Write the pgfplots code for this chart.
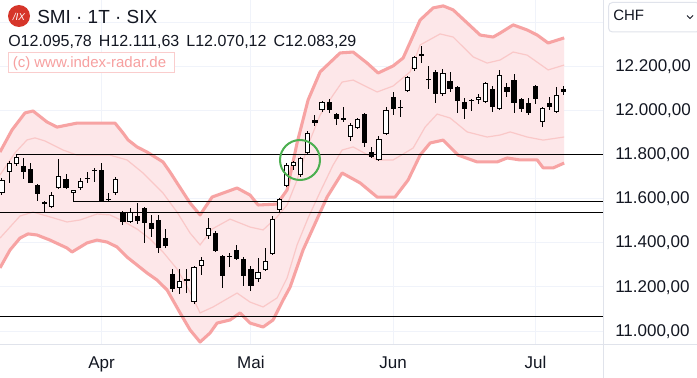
\documentclass[border=0pt]{standalone}
\usepackage{pgfplots}
\pgfplotsset{compat=1.18}
\usepackage{pgfplotstable}
\usepackage{fontspec}
\setmainfont{Liberation Sans}

\definecolor{txt}{RGB}{19,23,34}
\definecolor{gridc}{RGB}{240,243,250}
\definecolor{axc}{RGB}{224,227,235}
\definecolor{bandfill}{RGB}{253,231,233}
\definecolor{outerc}{RGB}{247,163,163}
\definecolor{innerc}{RGB}{250,200,200}
\definecolor{wmc}{RGB}{247,160,160}
\definecolor{wmbox}{RGB}{250,205,205}
\definecolor{circc}{RGB}{76,175,80}
\definecolor{logoc}{RGB}{214,53,42}

% Bands: upper outer, upper inner, lower inner, lower outer (index, value)
\pgfplotstableread{
i v
-0.28 11811
1.41 11911
3.23 11988
4.36 11997
6.33 11947
7.74 11924
10.55 11942
13.78 11942
15.89 11942
17.02 11897
17.72 11866
18.99 11834
20.39 11811
22.64 11766
23.63 11720
24.61 11671
26.44 11580
27.85 11526
29.54 11607
33.05 11648
34.88 11616
36.01 11571
38.68 11575
40.08 11639
41.49 11852
43.04 12047
44.73 12174
47.54 12260
49.37 12264
51.34 12214
52.88 12169
54.99 12201
56.40 12237
58.79 12409
60.62 12464
62.03 12473
63.43 12455
65.40 12396
67.23 12341
69.06 12332
70.04 12350
71.87 12387
73.84 12364
75.25 12341
76.79 12305
79.04 12328
}\bandUO

\pgfplotstableread{
i v
-0.28 11707
1.83 11807
3.52 11866
4.64 11875
6.05 11861
8.58 11820
10.55 11797
13.08 11797
15.19 11797
17.58 11775
19.83 11716
22.64 11625
24.61 11539
26.44 11444
27.85 11390
29.54 11462
32.07 11507
34.88 11471
36.71 11458
38.68 11517
40.08 11571
41.49 11684
43.04 11843
44.73 11979
46.55 12069
47.82 12128
49.37 12137
52.74 12083
54.99 12110
57.38 12174
58.79 12296
61.60 12346
63.43 12332
66.24 12242
68.21 12214
70.04 12228
71.87 12264
73.84 12250
76.79 12183
79.04 12205
}\bandUI

\pgfplotstableread{
i v
-0.28 11421
2.53 11521
4.36 11539
6.75 11517
9.14 11494
10.97 11503
13.36 11530
15.19 11526
17.02 11498
18.99 11462
20.82 11417
22.64 11358
24.61 11281
26.44 11177
27.85 11082
29.68 11109
33.05 11172
34.88 11131
36.71 11109
38.68 11150
40.08 11240
41.49 11390
43.04 11512
44.73 11630
46.55 11752
47.82 11820
49.37 11834
52.74 11775
54.99 11775
57.81 11829
59.49 11924
61.18 11983
63.01 11965
65.40 11902
68.21 11879
70.04 11888
71.45 11902
73.84 11879
76.09 11865
79.04 11879
}\bandLI

\pgfplotstableread{
i v
-0.28 11286
1.13 11367
2.53 11421
3.66 11440
4.92 11435
6.75 11412
9.14 11376
9.85 11358
11.95 11399
13.36 11412
14.77 11403
16.17 11381
17.58 11335
18.99 11299
20.39 11263
21.80 11231
23.21 11186
25.04 11082
26.44 11005
27.85 10950
29.25 10991
30.24 11036
32.07 11050
33.47 11082
34.88 11036
36.71 11018
38.11 11050
39.52 11140
40.51 11199
42.33 11367
45.71 11607
47.82 11716
50.35 11671
52.74 11607
55.27 11607
57.10 11684
58.79 11797
60.20 11852
62.03 11865
64.14 11797
66.81 11766
69.62 11766
71.03 11784
72.86 11775
75.25 11775
76.09 11739
77.50 11739
79.04 11761
}\bandLO

% band area: upper outer forward, lower outer backward
\pgfplotstableread{
i v
-0.28 11811
1.41 11911
3.23 11988
4.36 11997
6.33 11947
7.74 11924
10.55 11942
13.78 11942
15.89 11942
17.02 11897
17.72 11866
18.99 11834
20.39 11811
22.64 11766
23.63 11720
24.61 11671
26.44 11580
27.85 11526
29.54 11607
33.05 11648
34.88 11616
36.01 11571
38.68 11575
40.08 11639
41.49 11852
43.04 12047
44.73 12174
47.54 12260
49.37 12264
51.34 12214
52.88 12169
54.99 12201
56.40 12237
58.79 12409
60.62 12464
62.03 12473
63.43 12455
65.40 12396
67.23 12341
69.06 12332
70.04 12350
71.87 12387
73.84 12364
75.25 12341
76.79 12305
79.04 12328
79.04 11761
77.50 11739
76.09 11739
75.25 11775
72.86 11775
71.03 11784
69.62 11766
66.81 11766
64.14 11797
62.03 11865
60.20 11852
58.79 11797
57.10 11684
55.27 11607
52.74 11607
50.35 11671
47.82 11716
45.71 11607
42.33 11367
40.51 11199
39.52 11140
38.11 11050
36.71 11018
34.88 11036
33.47 11082
32.07 11050
30.24 11036
29.25 10991
27.85 10950
26.44 11005
25.04 11082
23.21 11186
21.80 11231
20.39 11263
18.99 11299
17.58 11335
16.17 11381
14.77 11403
13.36 11412
11.95 11399
9.85 11358
9.14 11376
6.75 11412
4.92 11435
3.66 11440
2.53 11421
1.13 11367
-0.28 11286
}\bandArea

% candles: index, low, body bottom, body top, high
\newcommand{\cb}[5]{%
  \addplot[black,line width=0.75pt] coordinates {(#1,#2) (#1,#5)};
  \addplot[black,line width=3.9pt] coordinates {(#1,#3) (#1,#4)};}
\newcommand{\cw}[5]{%
  \addplot[black,line width=0.75pt] coordinates {(#1,#2) (#1,#5)};
  \addplot[black,line width=3.9pt] coordinates {(#1,#3) (#1,#4)};
  \pgfmathsetmacro\cwa{#3+4.6}\pgfmathsetmacro\cwb{#4-4.6}%
  \addplot[white,line width=2.4pt] coordinates {(#1,\cwa) (#1,\cwb)};}

\begin{document}
\begin{tikzpicture}
\useasboundingbox (0,0) rectangle (522.75pt,-283.5pt);
\fill[white] (0,0) rectangle (522.75pt,-283.5pt);

\begin{axis}[
  at={(0,0)}, anchor=north west,
  scale only axis, width=452.25pt, height=258.75pt,
  xmin=-0.28, xmax=84.5, ymin=10936.6, ymax=12499.8,
  axis line style={draw=none},
  major tick length=0pt,
  xtick={14,35,55,75},
  xticklabels={Apr,Mai,Jun,Jul},
  ytick={11000,11200,11400,11600,11800,12000,12200,12400},
  yticklabels={{11.000,00},{11.200,00},{11.400,00},{11.600,00},{11.800,00},{12.000,00},{12.200,00},{}},
  yticklabel pos=right,
  grid=major,
  major grid style={color=gridc, line width=0.75pt},
  yticklabel style={font=\fontsize{12.75pt}{15pt}\selectfont, text=txt, anchor=base west, inner sep=0pt, xshift=9pt, yshift=-3.9pt},
  xticklabel style={font=\fontsize{12.75pt}{15pt}\selectfont, text=txt, anchor=base, inner sep=0pt, yshift=-18pt},
]
\addplot[fill=bandfill, draw=none] table[x=i,y=v]{\bandArea};

\addplot[innerc, line width=0.9pt] table[x=i,y=v]{\bandUI};
\addplot[innerc, line width=0.9pt] table[x=i,y=v]{\bandLI};
\addplot[outerc, line width=2.3pt, line join=round] table[x=i,y=v]{\bandUO};
\addplot[outerc, line width=2.3pt, line join=round] table[x=i,y=v]{\bandLO};

\addplot[black, line width=0.75pt] coordinates {(1.9,11802) (90,11802)};
\addplot[black, line width=0.75pt] coordinates {(10,11585) (90,11585)};
\addplot[black, line width=0.75pt] coordinates {(-1,11535) (90,11535)};
\addplot[black, line width=0.75pt] coordinates {(-1,11065) (90,11065)};

\cw{0}{11617}{11626}{11685}{11694}
\cw{1}{11671}{11721}{11762}{11771}
\cw{2}{11748}{11757}{11789}{11798}
\cb{3}{11689}{11721}{11748}{11785}
\cb{4}{11671}{11671}{11735}{11762}
\cb{5}{11590}{11621}{11662}{11665}
\cb{6}{11535}{11576}{11585}{11590}
\cw{7}{11558}{11562}{11617}{11630}
\cw{8}{11645}{11648}{11703}{11780}
\cb{9}{11645}{11648}{11689}{11712}
\cw{10}{11585}{11625}{11637}{11640}
\cw{11}{11639}{11648}{11680}{11694}
\cb{12}{11671}{11689}{11694}{11721}
\cb{13}{11676}{11726}{11730}{11739}
\cb{14}{11585}{11590}{11730}{11762}
\cb{15}{11585}{11595}{11599}{11626}
\cw{16}{11617}{11626}{11689}{11698}
\cb{17}{11481}{11494}{11540}{11545}
\cw{18}{11490}{11494}{11540}{11558}
\cb{19}{11485}{11499}{11522}{11580}
\cb{20}{11399}{11490}{11558}{11560}
\cb{21}{11426}{11463}{11490}{11526}
\cb{22}{11354}{11376}{11503}{11526}
\cb{23}{11376}{11385}{11422}{11463}
\cb{24}{11177}{11190}{11258}{11281}
\cw{25}{11168}{11195}{11227}{11281}
\cb{26}{11172}{11227}{11236}{11281}
\cw{27}{11122}{11132}{11290}{11295}
\cw{28}{11254}{11295}{11322}{11336}
\cw{29}{11417}{11431}{11467}{11512}
\cb{30}{11360}{11363}{11444}{11454}
\cb{31}{11195}{11250}{11340}{11345}
\cb{32}{11290}{11336}{11340}{11354}
\cb{33}{11322}{11327}{11367}{11390}
\cb{34}{11204}{11250}{11327}{11336}
\cb{35}{11181}{11204}{11281}{11295}
\cw{36}{11222}{11236}{11268}{11331}
\cw{37}{11272}{11277}{11317}{11376}
\cw{38}{11345}{11349}{11508}{11522}
\cw{39}{11540}{11549}{11599}{11603}
\cw{40}{11653}{11658}{11753}{11762}
\cw{41}{11730}{11748}{11766}{11771}
\cw{42}{11698}{11707}{11785}{11789}
\cw{43}{11800}{11807}{11898}{11907}
\cb{44}{11930}{11943}{11957}{11980}
\cw{45}{11993}{12002}{12039}{12043}
\cb{46}{11989}{12002}{12039}{12052}
\cb{47}{11934}{11961}{11984}{11989}
\cb{48}{11948}{11957}{11966}{12016}
\cw{49}{11862}{11880}{11934}{11943}
\cw{50}{11916}{11921}{11961}{11966}
\cb{51}{11834}{11853}{11984}{11989}
\cb{52}{11785}{11789}{11812}{11834}
\cw{53}{11771}{11775}{11871}{11884}
\cw{54}{11889}{11893}{12002}{12016}
\cb{55}{11980}{12007}{12061}{12084}
\cb{56}{11970}{12011}{12016}{12048}
\cw{57}{12084}{12088}{12152}{12157}
\cw{58}{12179}{12188}{12243}{12247}
\cb{59}{12216}{12247}{12256}{12293}
\cb{60}{12097}{12136}{12140}{12202}
\cb{61}{12034}{12075}{12175}{12184}
\cw{62}{12066}{12075}{12170}{12188}
\cb{63}{12084}{12097}{12134}{12175}
\cb{64}{11989}{12043}{12107}{12110}
\cb{65}{11961}{12007}{12039}{12057}
\cb{66}{11998}{12043}{12048}{12052}
\cw{67}{12029}{12046}{12059}{12075}
\cw{68}{12034}{12039}{12125}{12129}
\cb{69}{11993}{12016}{12097}{12111}
\cw{70}{12002}{12007}{12161}{12184}
\cb{71}{12061}{12084}{12107}{12125}
\cb{72}{11989}{12034}{12138}{12166}
\cb{73}{11993}{12007}{12052}{12057}
\cb{74}{11980}{11989}{12034}{12057}
\cb{75}{12029}{12052}{12111}{12115}
\cw{76}{11925}{11948}{12011}{12016}
\cb{77}{12002}{12016}{12034}{12061}
\cw{78}{11989}{11993}{12070}{12107}
\cb{79}{12070.12}{12083.29}{12095.78}{12111.63}
\end{axis}

\begin{scope}[x=0.75pt,y=-0.75pt]
  \draw[circc, line width=1.5pt] (300,160) circle (20);
  \draw[axc, line width=0.75pt] (0,344.5) -- (697,344.5);
  \draw[axc, line width=0.75pt] (603.5,0) -- (603.5,378);
  \fill[logoc] (19,16) circle (11);
  \node[anchor=center, text=white, inner sep=0pt, font=\fontsize{7.5pt}{8pt}\selectfont\itshape] at (19,16.5) {/IX};
  \node[anchor=base west, inner sep=0pt, text=txt, font=\fontsize{14.2pt}{17pt}\selectfont] at (37,24) {SMI · 1T · SIX};
  \node[anchor=base west, inner sep=0pt, text=txt, font=\fontsize{12pt}{14pt}\selectfont] at (8,46.5) {O12.095,78 \,H12.111,63 \,L12.070,12 \,C12.083,29};
  \draw[wmbox, line width=0.75pt, fill=white] (8,52.5) rectangle (174,73);
  \node[anchor=base west, inner sep=0pt, text=wmc, font=\fontsize{11.25pt}{13pt}\selectfont] at (12.5,68) {(c) www.index-radar.de};
  \draw[axc, line width=0.75pt, fill=white, rounded corners=3pt] (608.5,2.5) rectangle (700,32);
  \node[anchor=base west, inner sep=0pt, text=txt, font=\fontsize{11.25pt}{13pt}\selectfont] at (613,21) {CHF};
  \draw[txt, line width=0.6pt] (687,15.5) -- (690,18.5) -- (693,15.5);
\end{scope}
\end{tikzpicture}
\end{document}
